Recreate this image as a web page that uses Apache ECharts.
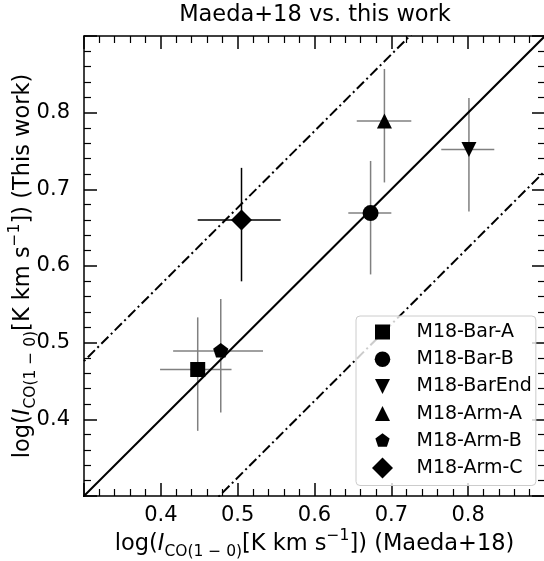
<!DOCTYPE html>
<html>
<head>
<meta charset="utf-8">
<script src="https://cdn.jsdelivr.net/npm/echarts@6/dist/echarts.min.js"></script>
<style>
html,body{margin:0;padding:0;background:#fff;}
#chart{width:544px;height:561px;}
</style>
</head>
<body>
<div id="chart"></div>
<script>
// ---- data ----
var names = ['M18-Bar-A', 'M18-Bar-B', 'M18-BarEnd', 'M18-Arm-A', 'M18-Arm-B', 'M18-Arm-C'];
var maeda = [0.448, 0.673, 0.801, 0.691, 0.478, 0.505];
var thisWork = [0.465, 0.669, 0.752, 0.789, 0.489, 0.660];
var maedaErrLow = [0.049, 0.029, 0.036, 0.036, 0.062, 0.057];
var maedaErrHigh = [0.044, 0.027, 0.033, 0.035, 0.055, 0.051];
var workErrLow = [0.080, 0.080, 0.081, 0.080, 0.080, 0.080];
var workErrHigh = [0.068, 0.068, 0.067, 0.068, 0.068, 0.068];
var symbols = ['rect', 'circle', 'path://M-1,-1L1,-1L0,1Z', 'triangle',
  'path://M-1,-1M1,1M0,-1L0.951,-0.309L0.588,0.809L-0.588,0.809L-0.951,-0.309Z', 'diamond'];
var symbolSizes = [15, 16, 15, 15, 16, 21];
// legend icons: same shapes with an empty margin so they draw smaller than the diamond
var legendIcons = [
  'path://M-1.4,-1.4M1.4,1.4M-1,-1L1,-1L1,1L-1,1Z',
  'path://M-1.35,-1.35M1.35,1.35M-1,0A1,1,0,1,0,1,0A1,1,0,1,0,-1,0Z',
  'path://M-1.4,-1.4M1.4,1.4M-1,-1L1,-1L0,1Z',
  'path://M-1.4,-1.4M1.4,1.4M0,-1L1,1L-1,1Z',
  'path://M-1.4,-1.4M1.4,1.4M0,-1L0.951,-0.309L0.588,0.809L-0.588,0.809L-0.951,-0.309Z',
  'diamond'
];
var errColors = ['#808080', '#808080', '#808080', '#808080', '#808080', '#000000'];
var lineEnds = [0.2, 1.0];
var offset = 0.176; // log10(1.5)
var axisMin = 0.3, axisMax = 0.9, tickStep = 0.1;

var FONT = 'DejaVu Sans';
function richName(tail) {
  return '{n|log(}{i|I}{sub|CO(1 \u2212 0)}{n|[K km s}{sup|\u22121}{n|]) ' + tail + '}';
}
var rich = {
  n: {fontSize: 22.5, fontFamily: FONT, color: '#000', lineHeight: 32, verticalAlign: 'middle'},
  i: {fontSize: 22.5, fontFamily: FONT, fontStyle: 'italic', color: '#000', lineHeight: 32, verticalAlign: 'middle'},
  sub: {fontSize: 15.5, fontFamily: FONT, color: '#000', lineHeight: 18, verticalAlign: 'bottom'},
  sup: {fontSize: 15.5, fontFamily: FONT, color: '#000', lineHeight: 15, verticalAlign: 'top'}
};

var identity = lineEnds.map(function (v) { return [v, v]; });
var upper = lineEnds.map(function (v) { return [v, v + offset]; });
var lower = lineEnds.map(function (v) { return [v, v - offset]; });

var errData = names.map(function (n, k) {
  return [maeda[k], thisWork[k], maedaErrLow[k], maedaErrHigh[k], workErrLow[k], workErrHigh[k], k];
});

function baseAxis(extra) {
  var a = {
    type: 'value', min: axisMin, max: axisMax, interval: tickStep,
    axisLine: {show: true, onZero: false, lineStyle: {color: '#000', width: 1.5}},
    axisTick: {show: true, inside: true, length: 13, lineStyle: {color: '#000', width: 1.5}},
    minorTick: {show: true, splitNumber: 5, length: 7, lineStyle: {color: '#000', width: 1.2}},
    splitLine: {show: false}, minorSplitLine: {show: false},
    axisLabel: {show: false}
  };
  for (var key in extra) a[key] = extra[key];
  return a;
}

var series = [];
series.push({
  type: 'custom', name: 'err', z: 2, silent: true,
  data: errData,
  renderItem: function (params, api) {
    var x = api.value(0), y = api.value(1);
    var c = errColors[api.value(6)];
    var p1 = api.coord([x - api.value(2), y]);
    var p2 = api.coord([x + api.value(3), y]);
    var p3 = api.coord([x, y - api.value(4)]);
    var p4 = api.coord([x, y + api.value(5)]);
    return {type: 'group', children: [
      {type: 'line', shape: {x1: p1[0], y1: p1[1], x2: p2[0], y2: p2[1]}, style: {stroke: c, lineWidth: 1.5}},
      {type: 'line', shape: {x1: p3[0], y1: p3[1], x2: p4[0], y2: p4[1]}, style: {stroke: c, lineWidth: 1.5}}
    ]};
  }
});
series.push({type: 'line', data: identity, symbol: 'none', clip: true, silent: true, z: 3,
  lineStyle: {color: '#000', width: 2}});
series.push({type: 'line', data: upper, symbol: 'none', clip: true, silent: true, z: 3,
  lineStyle: {color: '#000', width: 2, type: [10, 3.5, 2, 3.5]}});
series.push({type: 'line', data: lower, symbol: 'none', clip: true, silent: true, z: 3,
  lineStyle: {color: '#000', width: 2, type: [10, 3.5, 2, 3.5]}});
names.forEach(function (n, k) {
  series.push({
    type: 'scatter', name: n, z: 5,
    symbol: symbols[k], symbolSize: symbolSizes[k], symbolKeepAspect: true,
    itemStyle: {color: '#000', opacity: 1},
    data: [[maeda[k], thisWork[k]]]
  });
});

var option = {
  animation: false,
  backgroundColor: '#fff',
  title: {
    text: 'Maeda+18 vs. this work', left: 315, textAlign: 'center', top: 4, padding: 0,
    textStyle: {fontFamily: FONT, fontSize: 22.5, fontWeight: 'normal', color: '#000'}
  },
  grid: {left: 84, top: 36, width: 461, height: 460, outerBoundsMode: 'none', containLabel: false},
  legend: {
    orient: 'vertical', left: 356, top: 316,
    data: names.map(function (n, k) { return {name: n, icon: legendIcons[k]}; }),
    itemWidth: 21, itemHeight: 21, itemGap: 6.2,
    padding: [5.5, 4, 7, 16],
    backgroundColor: 'rgba(255,255,255,0.8)', borderColor: '#cccccc', borderWidth: 1, borderRadius: 4,
    textStyle: {fontFamily: FONT, fontSize: 19, color: '#000', lineHeight: 19, padding: [0, 0, 0, 18.5]},
    selectedMode: false
  },
  xAxis: [
    baseAxis({position: 'bottom',
      axisLabel: {show: true, fontFamily: FONT, fontSize: 21, color: '#000', margin: 9,
        showMinLabel: false, showMaxLabel: false, formatter: function (v) { return v.toFixed(1); }},
      name: richName('(Maeda+18)'), nameLocation: 'middle', nameGap: 32, nameMoveOverlap: false,
      nameTextStyle: {rich: rich}}),
    baseAxis({position: 'top'})
  ],
  yAxis: [
    baseAxis({position: 'left',
      axisLabel: {show: true, fontFamily: FONT, fontSize: 21, color: '#000', margin: 14,
        showMinLabel: false, showMaxLabel: false, formatter: function (v) { return v.toFixed(1); }},
      name: richName('(This work)'), nameLocation: 'middle', nameGap: 45, nameMoveOverlap: false,
      nameTextStyle: {rich: rich}}),
    baseAxis({position: 'right'})
  ],
  series: series
};

var chart = echarts.init(document.getElementById('chart'), null, {renderer: 'canvas'});
chart.setOption(option);
</script>
</body>
</html>
